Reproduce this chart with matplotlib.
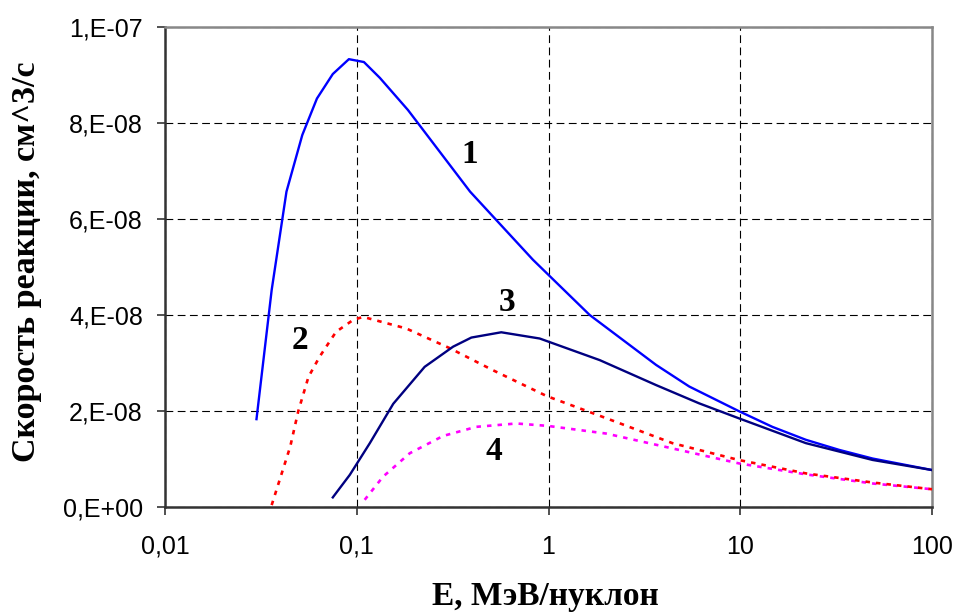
import matplotlib
matplotlib.use("Agg")
import matplotlib.pyplot as plt
from matplotlib.ticker import FixedLocator, FixedFormatter, NullLocator

UNIT = 1e-8

x1 = [0.030, 0.036, 0.043, 0.052, 0.062, 0.075, 0.091, 0.109, 0.132, 0.185, 0.39, 0.83, 1.64, 3.64, 5.42, 9.8, 14.7, 22, 32.8, 49, 100]
y1 = [1.83, 4.52, 6.57, 7.75, 8.51, 9.02, 9.33, 9.27, 8.94, 8.27, 6.57, 5.15, 4.0, 2.96, 2.51, 2.0, 1.67, 1.40, 1.19, 1.01, 0.77]

x2 = [0.036, 0.045, 0.0495, 0.056, 0.064, 0.078, 0.096, 0.108, 0.181, 0.305, 0.513, 0.98, 2.0, 4.43, 9.8, 22, 49, 100]
y2 = [0.04, 1.26, 1.99, 2.71, 3.13, 3.65, 3.90, 3.96, 3.72, 3.31, 2.85, 2.31, 1.85, 1.33, 0.98, 0.70, 0.51, 0.37]

x3 = [0.075, 0.092, 0.117, 0.155, 0.226, 0.318, 0.396, 0.567, 0.90, 1.85, 3.64, 6.1, 9.8, 22, 49, 100]
y3 = [0.2, 0.67, 1.33, 2.15, 2.92, 3.34, 3.53, 3.64, 3.51, 3.06, 2.54, 2.16, 1.85, 1.33, 0.98, 0.77]

x4 = [0.110, 0.137, 0.189, 0.282, 0.42, 0.68, 0.99, 2.0, 4.43, 9.8, 22, 49, 100]
y4 = [0.15, 0.63, 1.12, 1.48, 1.67, 1.74, 1.69, 1.53, 1.22, 0.91, 0.68, 0.49, 0.37]

x_ticks = [0.01, 0.1, 1, 10, 100]
x_ticklabels = ["0,01", "0,1", "1", "10", "100"]
y_ticks = [0, 2e-8, 4e-8, 6e-8, 8e-8, 1e-7]
y_ticklabels = ["0,E+00", "2,E-08", "4,E-08", "6,E-08", "8,E-08", "1,E-07"]

curve_labels = ["1", "2", "3", "4"]
label_pos = [(0.388, 7.35), (0.0505, 3.46), (0.611, 4.25), (0.518, 1.15)]

fig = plt.figure(figsize=(9.55, 6.15), dpi=100)
ax = fig.add_axes([165/955, 1-507/615, (932-165)/955, (507-27)/615])

def sc(v):
    return [a * UNIT for a in v]

ax.plot(x1, sc(y1), color="#0000FF", lw=1.7, zorder=5)
ax.plot(x2, sc(y2), color="#FF0000", lw=1.9, linestyle=(0, (1.7, 2.3)), zorder=4)
ax.plot(x3, sc(y3), color="#000080", lw=1.7, zorder=5)
ax.plot(x4, sc(y4), color="#FF00FF", lw=1.9, linestyle=(0, (1.7, 2.3)), zorder=3)

for t, (lx, ly) in zip(curve_labels, label_pos):
    ax.text(lx, ly * UNIT, t, family="Liberation Serif", fontweight="bold",
            fontsize=24, ha="center", va="center", zorder=6)

ax.set_xscale("log")
ax.set_xlim(0.01, 100)
ax.set_ylim(0, 1e-7)
ax.xaxis.set_major_locator(FixedLocator(x_ticks))
ax.xaxis.set_major_formatter(FixedFormatter(x_ticklabels))
ax.xaxis.set_minor_locator(NullLocator())
ax.yaxis.set_major_locator(FixedLocator(y_ticks))
ax.yaxis.set_major_formatter(FixedFormatter(y_ticklabels))

ax.grid(True, color="black", lw=0.8, linestyle=(0, (7, 4)))
ax.set_axisbelow(True)

for lbl in ax.get_xticklabels() + ax.get_yticklabels():
    lbl.set_family("Liberation Sans")
    lbl.set_fontsize(18)
ax.tick_params(axis="x", direction="out", length=6, width=1.2, pad=14, color="#333333")
ax.tick_params(axis="y", direction="out", length=6, width=1.2, pad=10, color="#333333")

for s in ["left", "bottom"]:
    ax.spines[s].set_color("#333333")
    ax.spines[s].set_linewidth(1.8)
for s in ["top", "right"]:
    ax.spines[s].set_color("#888888")
    ax.spines[s].set_linewidth(1.8)

fig.text(545/955, 1-597/615, "E, МэВ/нуклон", family="Liberation Serif", fontweight="bold",
         fontsize=24, ha="center", va="center")
fig.text(27/955, 1-262/615, "Скорость реакции, см^3/с", family="Liberation Serif", fontweight="bold",
         fontsize=24.5, ha="center", va="center", rotation=90)

fig.savefig("out.png", dpi=100)
